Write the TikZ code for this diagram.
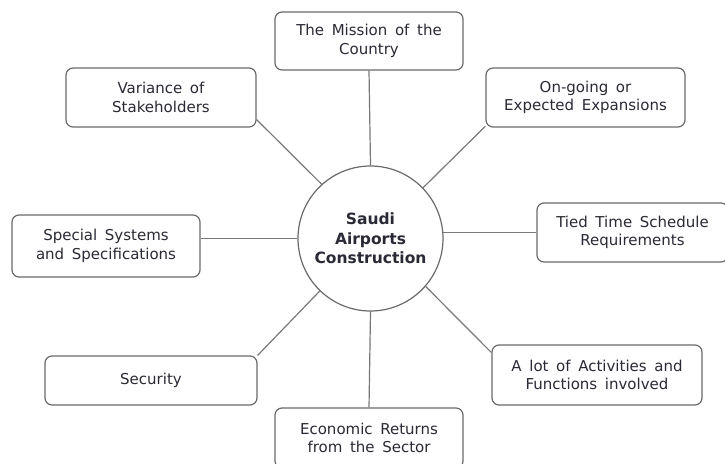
\documentclass[tikz,border=0pt]{standalone}
\usepackage{fontspec}
\setmainfont[WordSpace=1.6]{DejaVu Sans}
\definecolor{boxgray}{HTML}{6A6A6A}
\definecolor{linegray}{HTML}{787878}
\definecolor{txt}{HTML}{2A2A36}
\begin{document}
\begin{tikzpicture}[x=1pt,y=-1pt,
  box/.style={draw=boxgray, line width=1.2pt, rounded corners=7pt, fill=white,
    align=center, text=txt, font=\fontsize{15}{18.5}\selectfont, inner sep=0pt},
  hub/.style={circle, draw=boxgray, line width=1.2pt, fill=white, inner sep=0pt,
    align=center, text=txt, font=\bfseries\fontsize{15.5}{19.5}\selectfont},
  link/.style={draw=linegray, line width=1.2pt}]
\useasboundingbox (0,0) rectangle (725,463);
\node[hub, minimum size=145pt] (c) at (370.5,238.5) {Saudi\\Airports\\Construction};
\node[box, minimum width=188pt, minimum height=58pt] (mission) at (369,41) {The Mission of the\\Country};
\node[box, minimum width=190pt, minimum height=59pt] (variance) at (161,97.5) {Variance of\\Stakeholders};
\node[box, minimum width=199pt, minimum height=59pt] (ongoing) at (585.5,97.5) {On-going or\\Expected Expansions};
\node[box, minimum width=188pt, minimum height=62pt] (special) at (106,246) {Special Systems\\and Specifications};
\node[box, minimum width=191pt, minimum height=59pt] (tied) at (632.5,232.5) {Tied Time Schedule\\Requirements};
\node[box, minimum width=212pt, minimum height=49pt] (security) at (151,380.5) {Security};
\node[box, minimum width=210pt, minimum height=60pt] (activities) at (597,375) {A lot of Activities and\\Functions involved};
\node[box, minimum width=188pt, minimum height=60pt] (economic) at (369,438) {Economic Returns\\from the Sector};
\draw[link] (mission.south) -- (c.north);
\draw[link] (c.south) -- (economic.north);
\draw[link] (c.west) -- (c.west -| special.east);
\draw[link] (tied.west) -- (tied.west -| c.4);
\draw[link] (variance.-13) -- (c.132);
\draw[link] (ongoing.196) -- (c.44);
\draw[link] (security.north east) -- (c.226);
\draw[link] (activities.168) -- (c.-41);
\end{tikzpicture}
\end{document}
